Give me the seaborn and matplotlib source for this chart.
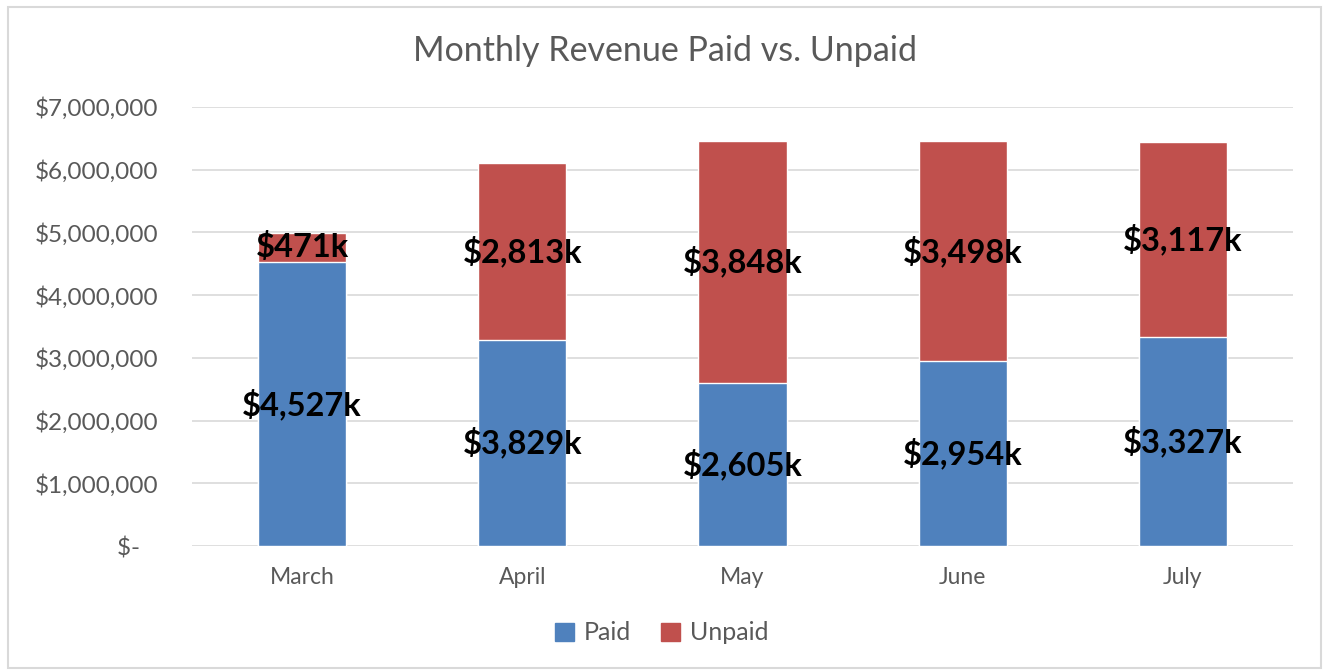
import matplotlib
matplotlib.use("Agg")
import matplotlib.pyplot as plt
import matplotlib.patches as mpatches
import pandas as pd
import seaborn as sns

# values in dollars
months = ["March", "April", "May", "June", "July"]
paid = [4527000, 3289000, 2605000, 2954000, 3327000]
unpaid = [471000, 2813000, 3848000, 3498000, 3117000]
# data labels as printed on the chart
paid_labels = ["$4,527k", "$3,829k", "$2,605k", "$2,954k", "$3,327k"]
unpaid_labels = ["$471k", "$2,813k", "$3,848k", "$3,498k", "$3,117k"]
yticks = [0, 1000000, 2000000, 3000000, 4000000, 5000000, 6000000, 7000000]

blue = "#4F81BD"
red = "#C0504D"
grey = "#595959"

sns.set_style("white")
plt.rcParams["font.family"] = ["Lato", "DejaVu Sans"]

df = pd.DataFrame({"Month": months, "Paid": paid, "Unpaid": unpaid})
df["Total"] = df["Paid"] + df["Unpaid"]

fig = plt.figure(figsize=(13.24, 6.71), dpi=100)
ax = fig.add_axes([192 / 1324, 1 - 546 / 671, 1101 / 1324, 439 / 671])

# stacked bars: total (red) underneath, paid (blue) on top
sns.barplot(data=df, x="Month", y="Total", color=red, saturation=1, width=0.4, ax=ax, zorder=2)
sns.barplot(data=df, x="Month", y="Paid", color=blue, saturation=1, width=0.4, ax=ax, zorder=3)

ax.bar_label(ax.containers[1], labels=paid_labels, label_type="center",
             fontsize=23.5, fontweight="bold", color="black", zorder=5)
for i, (p, u, lab) in enumerate(zip(paid, unpaid, unpaid_labels)):
    ax.text(i, p + u / 2, lab, ha="center", va="center", fontsize=23.5,
            fontweight="bold", color="black", zorder=5)

ax.set_ylim(0, 7000000)
ax.set_xlim(-0.5, 4.5)
ax.set_yticks(yticks)
ax.set_yticklabels(["$-   "] + [f"${v:,.0f}" for v in yticks[1:]])
ax.yaxis.grid(True, color="#D9D9D9", linewidth=1.2, zorder=0)
ax.set_axisbelow(True)
for s in ax.spines.values():
    s.set_visible(False)
ax.tick_params(axis="y", length=0, pad=24, labelsize=17.5, labelcolor=grey)
ax.tick_params(axis="x", length=0, pad=15, labelsize=16.5, labelcolor=grey)
ax.set_xlabel("")
ax.set_ylabel("")

fig.text(0.502, 1 - 51 / 671, "Monthly Revenue Paid vs. Unpaid", ha="center", va="center",
         fontsize=24.5, color=grey)

handles = [mpatches.Patch(color=blue, label="Paid"), mpatches.Patch(color=red, label="Unpaid")]
fig.legend(handles=handles, loc="center", bbox_to_anchor=(0.5, 1 - 633 / 671), ncol=2,
           frameon=False, fontsize=18, labelcolor=grey, handlelength=0.75, handleheight=0.75,
           handletextpad=0.4, columnspacing=1.2)

fig.patches.append(mpatches.Rectangle((8 / 1324, 3 / 671), 1313 / 1324, 661 / 671,
                                      transform=fig.transFigure, fill=False,
                                      edgecolor="#D9D9D9", linewidth=1.5))

fig.savefig("out.png", dpi=100, facecolor="white")
